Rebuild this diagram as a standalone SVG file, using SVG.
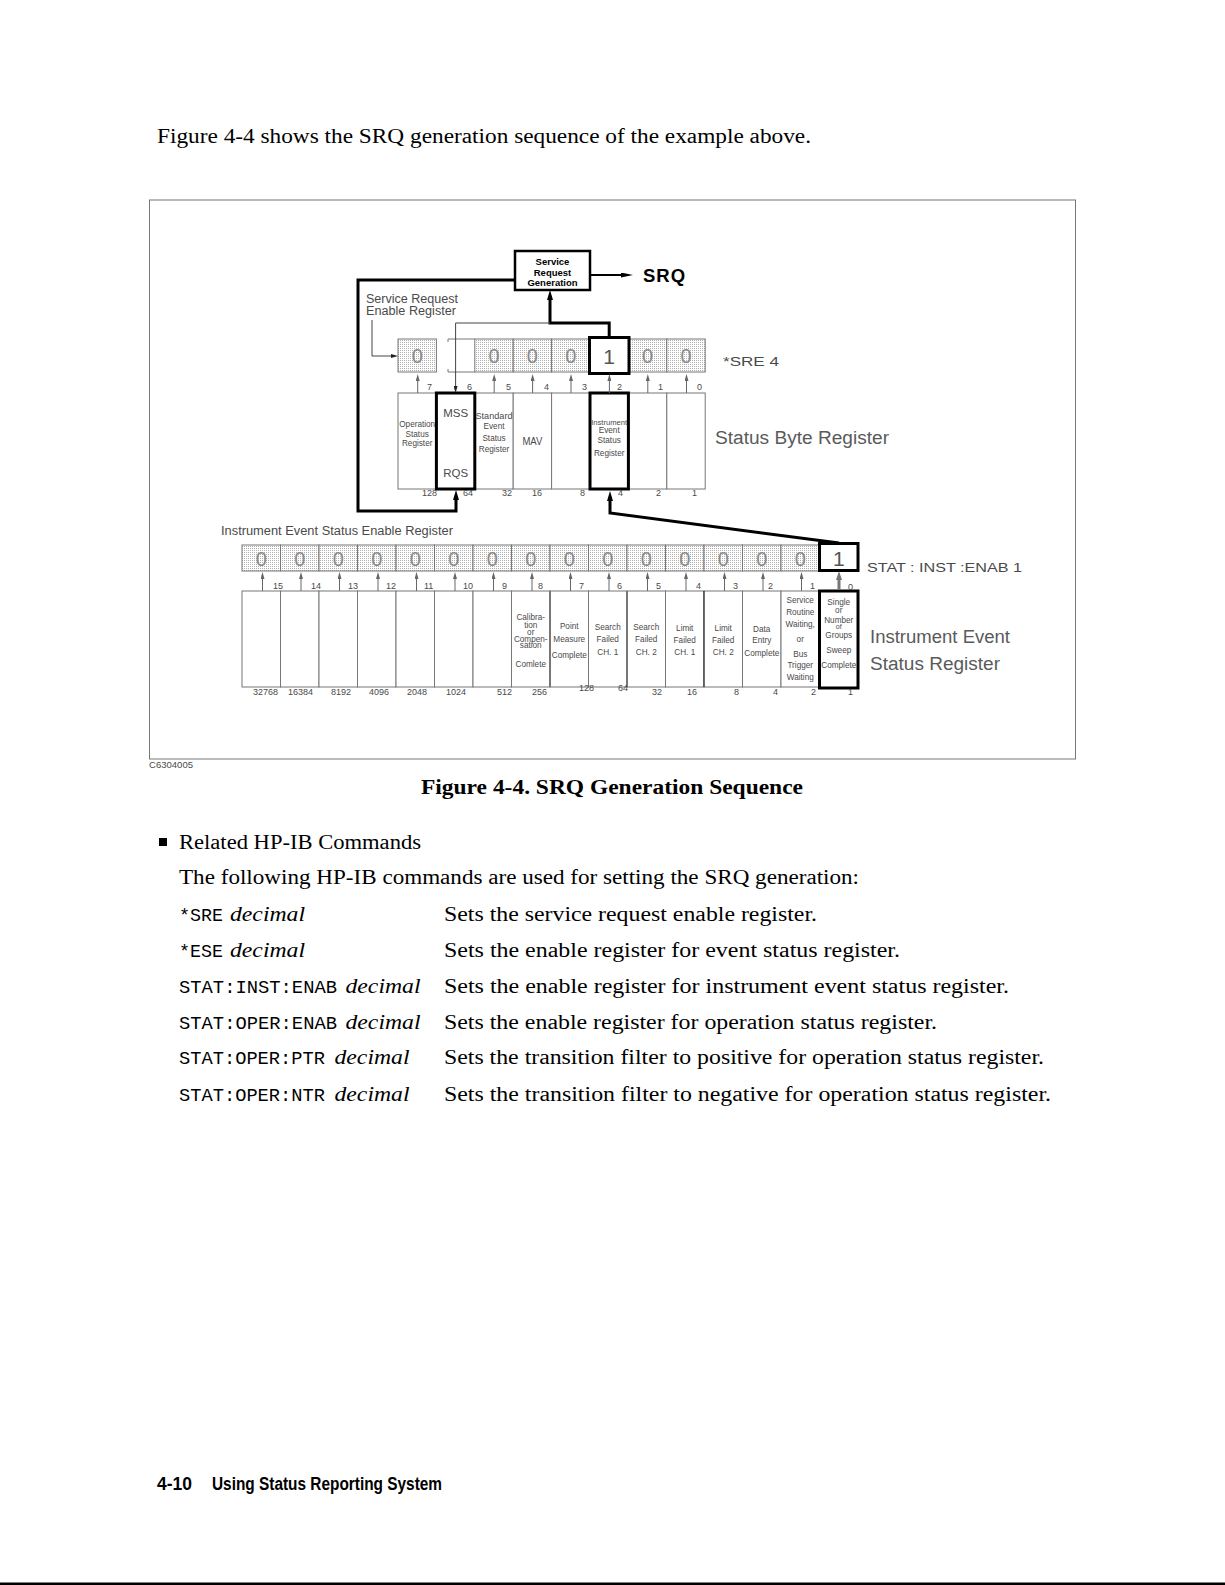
<svg xmlns="http://www.w3.org/2000/svg" width="1225" height="1585" viewBox="0 0 1225 1585">
<defs>
  <pattern id="dots" width="2" height="2" patternUnits="userSpaceOnUse">
    <rect width="2" height="2" fill="#fff"/>
    <rect width="1" height="1" fill="#b0b0b0"/>
  </pattern>
  <marker id="ag" viewBox="0 0 7 4" refX="0" refY="2" markerWidth="7" markerHeight="4" markerUnits="userSpaceOnUse" orient="auto">
    <path d="M0,0 L7,2 L0,4 Z" fill="#666"/>
  </marker>
  <marker id="agb" viewBox="0 0 9 6" refX="0" refY="3" markerWidth="9" markerHeight="6" markerUnits="userSpaceOnUse" orient="auto">
    <path d="M0,0 L9,3 L0,6 Z" fill="#777"/>
  </marker>
  <marker id="ak" viewBox="0 0 7 4" refX="0" refY="2" markerWidth="7" markerHeight="4" markerUnits="userSpaceOnUse" orient="auto">
    <path d="M0,0 L7,2 L0,4 Z" fill="#222"/>
  </marker>
  <marker id="ab" viewBox="0 0 10 6" refX="0" refY="3" markerWidth="10" markerHeight="6" markerUnits="userSpaceOnUse" orient="auto">
    <path d="M0,0 L10,3 L0,6 Z" fill="#000"/>
  </marker>
  <marker id="abl" viewBox="0 0 12 5" refX="0" refY="2.5" markerWidth="12" markerHeight="5" markerUnits="userSpaceOnUse" orient="auto">
    <path d="M0,0 L12,2.5 L0,5 Z" fill="#000"/>
  </marker>
</defs>
<style>
  .t{font-family:"Liberation Sans",Arial,sans-serif;fill:#4a4a4a}
  .c{text-anchor:middle}
  .e{text-anchor:end}
  .f7{font-size:7px}
  .f8{font-size:8.2px}
  .f9{font-size:9px}
  .f12{font-size:12px}
  .big{font-size:18px;fill:#5a5a5a}
  .zero{font-size:20px;fill:#8a8a8a;text-anchor:middle}
  .one{font-size:21px;fill:#555;text-anchor:middle}
  .bold{font-family:"Liberation Sans",Arial,sans-serif;font-weight:bold;fill:#000}
  .cell{fill:#fff;stroke:#777;stroke-width:1}
  .st{fill:url(#dots);stroke:#777;stroke-width:1}
  .ga{fill:none;stroke:#666;stroke-width:1;marker-end:url(#ag)}
  .ka{fill:none;stroke:#000;stroke-width:3;marker-end:url(#ab)}
  .serif{font-family:"Liberation Serif","Times New Roman",serif;font-size:20px;fill:#000}
  .it{font-style:italic}
  .mono{font-family:"Liberation Mono","Courier New",monospace;font-size:18.7px;fill:#000}
</style>
<rect width="1225" height="1585" fill="#fff"/>

<!-- page text -->
<text class="serif" x="157" y="143" textLength="654" lengthAdjust="spacingAndGlyphs">Figure 4-4 shows the SRQ generation sequence of the example above.</text>

<!-- figure frame -->
<rect x="149.5" y="200" width="926" height="559" fill="none" stroke="#777" stroke-width="1"/>
<text class="t f9" x="149" y="768" textLength="44" lengthAdjust="spacingAndGlyphs">C6304005</text>

<!-- Service Request Generation -->
<g id="srg">
  <rect x="515" y="251" width="75" height="39" fill="#fff" stroke="#000" stroke-width="2.5"/>
  <text class="bold c" x="552.5" y="265" font-size="9.5">Service</text>
  <text class="bold c" x="552.5" y="275.5" font-size="9.5">Request</text>
  <text class="bold c" x="552.5" y="285.5" font-size="9.5">Generation</text>
</g>
<g id="srq">
  <text class="bold" x="643" y="282" font-size="18.5" letter-spacing="1">SRQ</text>
</g>

<!-- Service Request Enable Register -->
<g id="sre">
  <text class="t f12" x="366" y="303" textLength="92" lengthAdjust="spacingAndGlyphs">Service Request</text>
  <text class="t f12" x="366" y="315" textLength="90" lengthAdjust="spacingAndGlyphs">Enable Register</text>
  <rect class="st" x="398" y="339" width="38.4" height="33"/>
  <path d="M448,342 L448,339 L474.8,339 M448,369 L448,372 L474.8,372" fill="none" stroke="#777" stroke-width="1"/>
  <rect class="st" x="474.8" y="339" width="38.4" height="33"/>
  <rect class="st" x="513.2" y="339" width="38.4" height="33"/>
  <rect class="st" x="551.6" y="339" width="38.4" height="33"/>
  <rect class="st" x="628.4" y="339" width="38.4" height="33"/>
  <rect class="st" x="666.8" y="339" width="38.4" height="33"/>
  <rect x="589.5" y="337.5" width="39.5" height="36" fill="#fff" stroke="#000" stroke-width="3"/>
  <text class="t zero" x="417.2" y="363">0</text>
  <text class="t zero" x="494" y="363">0</text>
  <text class="t zero" x="532.4" y="363">0</text>
  <text class="t zero" x="570.8" y="363">0</text>
  <text class="t one" x="609.2" y="363.5">1</text>
  <text class="t zero" x="647.6" y="363">0</text>
  <text class="t zero" x="686" y="363">0</text>
  <text class="t" x="723" y="366" font-size="13.5" textLength="56" lengthAdjust="spacingAndGlyphs">*SRE 4</text>
</g>

<!-- Status Byte Register -->
<g id="stb">
  <rect class="cell" x="398" y="393" width="38.4" height="96"/>
  <rect class="cell" x="474.8" y="393" width="38.4" height="96"/>
  <rect class="cell" x="513.2" y="393" width="38.4" height="96"/>
  <rect class="cell" x="551.6" y="393" width="38.4" height="96"/>
  <rect class="cell" x="628.4" y="393" width="38.4" height="96"/>
  <rect class="cell" x="666.8" y="393" width="38.4" height="96"/>
  <rect x="436.4" y="393" width="38.4" height="96" fill="#fff" stroke="#000" stroke-width="3"/>
  <rect x="590" y="393" width="38.4" height="96" fill="#fff" stroke="#000" stroke-width="3"/>
  <text class="t f8 c" x="417.2" y="427">Operation</text>
  <text class="t f8 c" x="417.2" y="437">Status</text>
  <text class="t f8 c" x="417.2" y="446">Register</text>
  <text class="t c" x="455.6" y="417" font-size="11.5">MSS</text>
  <text class="t c" x="455.6" y="477" font-size="11.5">RQS</text>
  <text class="t f8 c" x="494" y="419" textLength="37" lengthAdjust="spacingAndGlyphs">Standard</text>
  <text class="t f8 c" x="494" y="429">Event</text>
  <text class="t f8 c" x="494" y="441">Status</text>
  <text class="t f8 c" x="494" y="452">Register</text>
  <text class="t c" x="532.4" y="445" font-size="10.5" textLength="20" lengthAdjust="spacingAndGlyphs">MAV</text>
  <text class="t f7 c" x="609.2" y="425" textLength="36" lengthAdjust="spacingAndGlyphs">Instrument</text>
  <text class="t f8 c" x="609.2" y="433">Event</text>
  <text class="t f8 c" x="609.2" y="443">Status</text>
  <text class="t f8 c" x="609.2" y="456">Register</text>
  <text class="t f9" x="427" y="390">7</text>
  <text class="t f9" x="467" y="390">6</text>
  <text class="t f9" x="506" y="390">5</text>
  <text class="t f9" x="544" y="390">4</text>
  <text class="t f9" x="582" y="390">3</text>
  <text class="t f9" x="617" y="390">2</text>
  <text class="t f9" x="658" y="390">1</text>
  <text class="t f9" x="697" y="390">0</text>
  <text class="t f9 e" x="437" y="496">128</text>
  <text class="t f9 e" x="473" y="496">64</text>
  <text class="t f9 e" x="512" y="496">32</text>
  <text class="t f9 e" x="542" y="496">16</text>
  <text class="t f9 e" x="585" y="496">8</text>
  <text class="t f9 e" x="623" y="496">4</text>
  <text class="t f9 e" x="661" y="496">2</text>
  <text class="t f9 e" x="697" y="496">1</text>
  <text class="t big" x="715" y="444" textLength="174" lengthAdjust="spacingAndGlyphs">Status Byte Register</text>
</g>

<!-- Instrument Event Status Enable Register -->
<g id="iese">
  <text class="t f12" x="221" y="535" textLength="232" lengthAdjust="spacingAndGlyphs">Instrument Event Status Enable Register</text>
  <rect class="st" x="242" y="545" width="38.5" height="26"/>
  <rect class="st" x="280.5" y="545" width="38.5" height="26"/>
  <rect class="st" x="319" y="545" width="38.5" height="26"/>
  <rect class="st" x="357.5" y="545" width="38.5" height="26"/>
  <rect class="st" x="396" y="545" width="38.5" height="26"/>
  <rect class="st" x="434.5" y="545" width="38.5" height="26"/>
  <rect class="st" x="473" y="545" width="38.5" height="26"/>
  <rect class="st" x="511.5" y="545" width="38.5" height="26"/>
  <rect class="st" x="550" y="545" width="38.5" height="26"/>
  <rect class="st" x="588.5" y="545" width="38.5" height="26"/>
  <rect class="st" x="627" y="545" width="38.5" height="26"/>
  <rect class="st" x="665.5" y="545" width="38.5" height="26"/>
  <rect class="st" x="704" y="545" width="38.5" height="26"/>
  <rect class="st" x="742.5" y="545" width="38.5" height="26"/>
  <rect class="st" x="781" y="545" width="38.5" height="26"/>
  <rect x="819.5" y="543.5" width="38.5" height="27" fill="#fff" stroke="#000" stroke-width="3"/>
  <text class="t zero" x="261.25" y="565.5" font-size="19">0</text>
  <text class="t zero" x="299.75" y="565.5" font-size="19">0</text>
  <text class="t zero" x="338.25" y="565.5" font-size="19">0</text>
  <text class="t zero" x="376.75" y="565.5" font-size="19">0</text>
  <text class="t zero" x="415.25" y="565.5" font-size="19">0</text>
  <text class="t zero" x="453.75" y="565.5" font-size="19">0</text>
  <text class="t zero" x="492.25" y="565.5" font-size="19">0</text>
  <text class="t zero" x="530.75" y="565.5" font-size="19">0</text>
  <text class="t zero" x="569.25" y="565.5" font-size="19">0</text>
  <text class="t zero" x="607.75" y="565.5" font-size="19">0</text>
  <text class="t zero" x="646.25" y="565.5" font-size="19">0</text>
  <text class="t zero" x="684.75" y="565.5" font-size="19">0</text>
  <text class="t zero" x="723.25" y="565.5" font-size="19">0</text>
  <text class="t zero" x="761.75" y="565.5" font-size="19">0</text>
  <text class="t zero" x="800.25" y="565.5" font-size="19">0</text>
  <text class="t one" x="838.75" y="566" font-size="20">1</text>
  <text class="t" x="867" y="572" font-size="13.5" textLength="155" lengthAdjust="spacingAndGlyphs">STAT : INST :ENAB  1</text>
</g>

<!-- Instrument Event Status Register -->
<g id="ies">
  <rect class="cell" x="242" y="591" width="38.5" height="96"/>
  <rect class="cell" x="280.5" y="591" width="38.5" height="96"/>
  <rect class="cell" x="319" y="591" width="38.5" height="96"/>
  <rect class="cell" x="357.5" y="591" width="38.5" height="96"/>
  <rect class="cell" x="396" y="591" width="38.5" height="96"/>
  <rect class="cell" x="434.5" y="591" width="38.5" height="96"/>
  <rect class="cell" x="473" y="591" width="38.5" height="96"/>
  <rect class="cell" x="511.5" y="591" width="38.5" height="96"/>
  <rect class="cell" x="550" y="591" width="38.5" height="96"/>
  <rect class="cell" x="588.5" y="591" width="38.5" height="96"/>
  <rect class="cell" x="627" y="591" width="38.5" height="96"/>
  <rect class="cell" x="665.5" y="591" width="38.5" height="96"/>
  <rect class="cell" x="704" y="591" width="38.5" height="96"/>
  <rect class="cell" x="742.5" y="591" width="38.5" height="96"/>
  <rect class="cell" x="781" y="591" width="38.5" height="96"/>
  <path d="M550,591 L550,687 M627,591 L627,687" stroke="#777" stroke-width="2"/>
  <path d="M704,591 L704,687" stroke="#222" stroke-width="1"/>
  <rect x="819.5" y="591" width="38.5" height="97" fill="#fff" stroke="#000" stroke-width="3"/>

  <text class="t f8 c" x="530.75" y="620">Calibra-</text>
  <text class="t f8 c" x="530.75" y="628">tion</text>
  <text class="t f8 c" x="530.75" y="635">or</text>
  <text class="t f8 c" x="530.75" y="642">Compen-</text>
  <text class="t f8 c" x="530.75" y="648">sation</text>
  <text class="t f8 c" x="530.75" y="667">Comlete</text>

  <text class="t f8 c" x="569.25" y="629">Point</text>
  <text class="t f8 c" x="569.25" y="642">Measure</text>
  <text class="t f8 c" x="569.25" y="658">Complete</text>

  <text class="t f8 c" x="607.75" y="630">Search</text>
  <text class="t f8 c" x="607.75" y="642">Failed</text>
  <text class="t f8 c" x="607.75" y="655">CH. 1</text>

  <text class="t f8 c" x="646.25" y="630">Search</text>
  <text class="t f8 c" x="646.25" y="642">Failed</text>
  <text class="t f8 c" x="646.25" y="655">CH. 2</text>

  <text class="t f8 c" x="684.75" y="631">Limit</text>
  <text class="t f8 c" x="684.75" y="643">Failed</text>
  <text class="t f8 c" x="684.75" y="655">CH. 1</text>

  <text class="t f8 c" x="723.25" y="631">Limit</text>
  <text class="t f8 c" x="723.25" y="643">Failed</text>
  <text class="t f8 c" x="723.25" y="655">CH. 2</text>

  <text class="t f8 c" x="761.75" y="632">Data</text>
  <text class="t f8 c" x="761.75" y="643">Entry</text>
  <text class="t f8 c" x="761.75" y="656">Complete</text>

  <text class="t f8 c" x="800.25" y="603">Service</text>
  <text class="t f8 c" x="800.25" y="615">Routine</text>
  <text class="t f8 c" x="800.25" y="627">Waiting,</text>
  <text class="t f8 c" x="800.25" y="642">or</text>
  <text class="t f8 c" x="800.25" y="657">Bus</text>
  <text class="t f8 c" x="800.25" y="668">Trigger</text>
  <text class="t f8 c" x="800.25" y="680">Waiting</text>

  <text class="t f8 c" x="838.75" y="605">Single</text>
  <text class="t f8 c" x="838.75" y="613">or</text>
  <text class="t f8 c" x="838.75" y="622.5">Number</text>
  <text class="t f7 c" x="838.75" y="629">of</text>
  <text class="t f8 c" x="838.75" y="638">Groups</text>
  <text class="t f8 c" x="838.75" y="653">Sweep</text>
  <text class="t f8 c" x="838.75" y="668">Complete</text>

  <text class="t f9" x="273" y="589">15</text>
  <text class="t f9" x="311" y="589">14</text>
  <text class="t f9" x="348" y="589">13</text>
  <text class="t f9" x="386" y="589">12</text>
  <text class="t f9" x="424" y="589">11</text>
  <text class="t f9" x="463" y="589">10</text>
  <text class="t f9" x="502" y="589">9</text>
  <text class="t f9" x="538" y="589">8</text>
  <text class="t f9" x="579" y="589">7</text>
  <text class="t f9" x="617" y="589">6</text>
  <text class="t f9" x="656" y="589">5</text>
  <text class="t f9" x="696" y="589">4</text>
  <text class="t f9" x="733" y="589">3</text>
  <text class="t f9" x="768" y="589">2</text>
  <text class="t f9" x="810" y="589">1</text>
  <text class="t f9" x="848" y="590">0</text>

  <text class="t f9" x="253" y="695">32768</text>
  <text class="t f9" x="288" y="695">16384</text>
  <text class="t f9" x="331" y="695">8192</text>
  <text class="t f9" x="369" y="695">4096</text>
  <text class="t f9" x="407" y="695">2048</text>
  <text class="t f9" x="446" y="695">1024</text>
  <text class="t f9" x="497" y="695">512</text>
  <text class="t f9" x="532" y="695">256</text>
  <text class="t f9" x="579" y="691">128</text>
  <text class="t f9" x="618" y="691">64</text>
  <text class="t f9" x="652" y="695">32</text>
  <text class="t f9" x="687" y="695">16</text>
  <text class="t f9" x="734" y="695">8</text>
  <text class="t f9" x="773" y="695">4</text>
  <text class="t f9" x="811" y="695">2</text>
  <text class="t f9" x="848" y="695">1</text>

  <text class="t big" x="870" y="643" textLength="140" lengthAdjust="spacingAndGlyphs">Instrument Event</text>
  <text class="t big" x="870" y="670" textLength="130" lengthAdjust="spacingAndGlyphs">Status Register</text>
</g>

<!-- connectors -->
<g id="connectors">
  <path class="ka" d="M515,280 L358,280 L358,511 L456,511 L456,500"/>
  <path class="ka" d="M609.2,337 L609.2,323 L550,323 L550,300"/>
  <path d="M590,275 L621,275" fill="none" stroke="#000" stroke-width="2" marker-end="url(#abl)"/>
  <path d="M550,323 L455.6,323 L455.6,386" fill="none" stroke="#444" stroke-width="1" marker-end="url(#ak)"/>
  <path d="M372,320 L372,356 L391,356" fill="none" stroke="#444" stroke-width="1" marker-end="url(#ak)"/>
  <path class="ka" d="M839,543 L610,513 L610,501"/>
  <path class="ga" d="M417.7,393 L417.7,381"/>
  <path class="ga" d="M494.2,393 L494.2,381"/>
  <path class="ga" d="M532.6,393 L532.6,381"/>
  <path class="ga" d="M571,393 L571,381"/>
  <path class="ga" d="M609.4,393 L609.4,381"/>
  <path class="ga" d="M647.8,393 L647.8,381"/>
  <path class="ga" d="M686.5,393 L686.5,381"/>
  <path class="ga" d="M262.5,591 L262.5,579"/>
  <path class="ga" d="M301,591 L301,579"/>
  <path class="ga" d="M339.5,591 L339.5,579"/>
  <path class="ga" d="M378,591 L378,579"/>
  <path class="ga" d="M416.5,591 L416.5,579"/>
  <path class="ga" d="M455,591 L455,579"/>
  <path class="ga" d="M493.5,591 L493.5,579"/>
  <path class="ga" d="M532,591 L532,579"/>
  <path class="ga" d="M570.5,591 L570.5,579"/>
  <path class="ga" d="M609,591 L609,579"/>
  <path class="ga" d="M647.5,591 L647.5,579"/>
  <path class="ga" d="M686,591 L686,579"/>
  <path class="ga" d="M724.5,591 L724.5,579"/>
  <path class="ga" d="M763,591 L763,579"/>
  <path class="ga" d="M801.5,591 L801.5,579"/>
  <path d="M839,590 L839,580" fill="none" stroke="#777" stroke-width="3" marker-end="url(#agb)"/>
</g>

<!-- caption -->
<text class="serif" x="421" y="794" font-weight="bold" textLength="382" lengthAdjust="spacingAndGlyphs">Figure 4-4. SRQ Generation Sequence</text>

<!-- related commands -->
<rect x="159" y="838" width="8" height="8" fill="#000"/>
<text class="serif" x="179" y="849" textLength="242" lengthAdjust="spacingAndGlyphs">Related HP-IB Commands</text>
<text class="serif" x="179" y="884" textLength="680" lengthAdjust="spacingAndGlyphs">The following HP-IB commands are used for setting the SRQ generation:</text>

<text class="mono" x="179" y="921" textLength="44" lengthAdjust="spacingAndGlyphs">*SRE</text>
<text class="serif it" x="230" y="921" textLength="75" lengthAdjust="spacingAndGlyphs">decimal</text>
<text class="serif" x="444" y="921" textLength="373" lengthAdjust="spacingAndGlyphs">Sets the service request enable register.</text>

<text class="mono" x="179" y="957" textLength="44" lengthAdjust="spacingAndGlyphs">*ESE</text>
<text class="serif it" x="230" y="957" textLength="75" lengthAdjust="spacingAndGlyphs">decimal</text>
<text class="serif" x="444" y="957" textLength="456" lengthAdjust="spacingAndGlyphs">Sets the enable register for event status register.</text>

<text class="mono" x="179" y="992.5" textLength="158" lengthAdjust="spacingAndGlyphs">STAT:INST:ENAB</text>
<text class="serif it" x="345.5" y="992.5" textLength="75" lengthAdjust="spacingAndGlyphs">decimal</text>
<text class="serif" x="444" y="992.5" textLength="565" lengthAdjust="spacingAndGlyphs">Sets the enable register for instrument event status register.</text>

<text class="mono" x="179" y="1029" textLength="158" lengthAdjust="spacingAndGlyphs">STAT:OPER:ENAB</text>
<text class="serif it" x="345.5" y="1029" textLength="75" lengthAdjust="spacingAndGlyphs">decimal</text>
<text class="serif" x="444" y="1029" textLength="493" lengthAdjust="spacingAndGlyphs">Sets the enable register for operation status register.</text>

<text class="mono" x="179" y="1064" textLength="146" lengthAdjust="spacingAndGlyphs">STAT:OPER:PTR</text>
<text class="serif it" x="334.5" y="1064" textLength="75" lengthAdjust="spacingAndGlyphs">decimal</text>
<text class="serif" x="444" y="1064" textLength="600" lengthAdjust="spacingAndGlyphs">Sets the transition filter to positive for operation status register.</text>

<text class="mono" x="179" y="1100.5" textLength="146" lengthAdjust="spacingAndGlyphs">STAT:OPER:NTR</text>
<text class="serif it" x="334.5" y="1100.5" textLength="75" lengthAdjust="spacingAndGlyphs">decimal</text>
<text class="serif" x="444" y="1100.5" textLength="607" lengthAdjust="spacingAndGlyphs">Sets the transition filter to negative for operation status register.</text>

<!-- footer -->
<text class="bold" x="157" y="1490" font-size="18" textLength="35" lengthAdjust="spacingAndGlyphs">4-10</text>
<text class="bold" x="212" y="1490" font-size="18" textLength="230" lengthAdjust="spacingAndGlyphs">Using Status Reporting System</text>
<rect x="0" y="1582.5" width="1225" height="2.5" fill="#000"/>
</svg>
